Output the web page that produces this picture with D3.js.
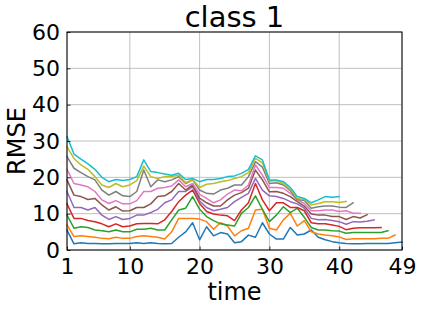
<!DOCTYPE html>
<html><head><meta charset="utf-8">
<script src="https://cdn.jsdelivr.net/npm/d3@7"></script>
<style>body{margin:0;background:#fff}svg{display:block}text{font-family:"DejaVu Sans",sans-serif}</style>
</head><body>
<script>
const title = "class 1";
const xLabel = "time";
const yLabel = "RMSE";
const xTicks = [1, 10, 20, 30, 40, 49];
const yTicks = [0, 10, 20, 30, 40, 50, 60];
const colors = ["#1f77b4","#ff7f0e","#2ca02c","#d62728","#9467bd","#8c564b","#e377c2","#7f7f7f","#bcbd22","#17becf"];

const s0 = [5.5,1.7,2.0,1.8,1.8,1.7,1.7,1.8,1.8,1.8,2.0,1.8,2.0,1.8,1.7,1.8,3.5,5.0,7.5,2.8,6.4,3.9,4.8,4.4,2.0,2.3,4.1,3.5,7.5,4.4,3.0,3.0,6.2,4.1,4.4,5.5,3.5,2.8,2.3,2.0,1.8,1.7,1.7,1.8,1.8,1.8,1.8,2.0,2.2];
const s1 = [6.9,3.7,3.9,3.7,3.5,3.2,3.1,3.5,3.2,3.2,3.7,3.9,3.7,3.5,3.0,5.0,8.7,8.7,8.7,8.5,7.8,5.7,7.5,6.6,3.9,5.3,6.0,11.0,11.2,6.0,5.5,8.3,10.1,6.6,8.1,5.0,4.4,4.1,3.9,3.6,2.9,3.1,3.1,3.1,3.1,3.2,3.2,4.1];
const s2 = [9.6,6.0,6.4,6.2,5.5,5.3,5.0,5.5,5.0,5.0,5.7,5.7,6.0,5.5,5.5,8.3,11.0,11.5,14.7,11.2,9.2,8.1,7.2,6.9,6.6,10.1,11.7,14.9,11.2,7.8,9.6,11.9,10.3,11.5,9.0,6.2,5.5,5.5,5.3,5.2,4.6,4.8,4.8,4.8,4.8,4.8,5.3];
const s3 = [12.7,8.7,8.7,8.1,7.8,7.2,6.4,7.2,6.4,6.6,7.2,7.3,7.3,7.2,8.3,10.6,13.3,15.1,16.5,12.8,10.6,9.9,9.6,9.4,8.1,11.0,13.0,18.3,13.8,10.8,13.0,13.0,11.7,11.7,10.8,7.5,7.2,7.2,6.9,6.5,5.6,6.0,6.1,6.1,6.1,6.2];
const s4 = [16.1,11.7,11.7,11.0,11.7,9.6,8.4,9.2,8.4,8.7,9.6,9.6,10.3,11.2,13.0,13.8,16.1,16.1,17.4,13.5,11.7,10.8,11.2,11.7,13.3,14.5,15.6,19.7,16.5,14.9,14.7,14.2,13.3,12.7,11.5,8.7,8.3,8.4,8.1,7.8,7.1,7.8,7.7,7.9,8.3];
const s5 = [19.3,15.1,14.7,13.9,14.2,12.4,11.0,11.9,10.7,10.8,11.7,11.7,12.7,14.7,14.9,16.1,18.3,16.5,17.9,14.3,13.0,12.1,12.1,13.8,15.1,15.8,17.0,22.0,19.3,16.0,16.1,15.6,14.7,13.3,12.1,9.9,9.6,9.6,9.2,9.2,8.4,9.2,8.8,9.7];
const s6 = [22.2,18.3,17.9,17.4,16.1,13.8,12.8,13.6,12.7,12.7,13.6,16.1,16.1,17.0,17.2,17.6,19.3,17.4,18.3,15.3,14.2,13.0,13.8,15.4,16.5,16.3,17.9,23.4,20.6,17.2,17.2,17.0,15.6,13.8,12.8,10.8,10.8,11.0,11.0,10.6,10.8,10.1,10.1];
const s7 = [25.7,22.5,21.3,20.2,19.3,16.5,15.1,16.1,14.9,14.7,16.1,22.0,17.4,19.3,18.8,19.3,20.2,18.3,19.3,16.5,15.6,15.4,16.5,17.0,17.9,17.9,20.2,24.3,22.8,18.3,18.5,17.9,16.3,13.9,13.6,11.5,11.9,12.1,12.1,11.8,11.7,13.0];
const s8 = [28.4,25.2,23.4,22.2,20.2,17.9,17.2,18.3,17.4,17.9,19.1,23.1,20.2,19.7,20.2,20.2,20.6,18.5,19.4,17.2,18.1,18.3,18.8,19.1,19.7,20.2,21.3,25.2,24.0,18.9,19.1,18.3,16.7,14.2,13.9,12.4,12.8,13.3,13.3,13.1,13.4];
const s9 = [31.2,26.4,25.0,23.7,22.2,20.0,18.8,19.4,19.1,19.4,20.2,24.8,21.6,21.3,20.9,20.6,21.1,19.4,19.7,18.8,19.4,19.4,19.7,20.2,20.4,21.1,22.2,25.9,24.8,19.3,19.3,18.8,17.2,14.7,14.2,13.0,13.8,14.7,14.5,14.7];
const series = [s0,s1,s2,s3,s4,s5,s6,s7,s8,s9];

const W = 421, H = 309;
const m = {left: 67, right: 19, top: 32, bottom: 59};
const svg = d3.select("body").append("svg").attr("width", W).attr("height", H);
const x = d3.scaleLinear().domain([1, 49]).range([m.left, W - m.right]);
const y = d3.scaleLinear().domain([0, 60]).range([H - m.bottom, m.top]);

// grid
const g = svg.append("g");
g.selectAll(".vx").data(xTicks).join("line")
  .attr("x1", d => x(d)).attr("x2", d => x(d)).attr("y1", y(0)).attr("y2", y(60))
  .attr("stroke", "#b0b0b0").attr("stroke-width", 0.8);
g.selectAll(".hy").data(yTicks).join("line")
  .attr("y1", d => y(d)).attr("y2", d => y(d)).attr("x1", x(1)).attr("x2", x(49))
  .attr("stroke", "#b0b0b0").attr("stroke-width", 0.8);

// lines
const line = d3.line().x((d, i) => x(i + 1)).y(d => y(d));
svg.append("g").selectAll("path").data(series).join("path")
  .attr("d", d => line(d)).attr("fill", "none")
  .attr("stroke", (d, i) => colors[i]).attr("stroke-width", 1.5)
  .attr("stroke-linejoin", "round").attr("stroke-linecap", "square");

// axes
const xAxis = d3.axisBottom(x).tickValues(xTicks).tickFormat(d3.format("d")).tickSizeInner(-3.5).tickSizeOuter(0).tickPadding(8);
const yAxis = d3.axisLeft(y).tickValues(yTicks).tickSizeInner(-3.5).tickSizeOuter(0).tickPadding(7);
const ax = svg.append("g").attr("transform", `translate(0,${H - m.bottom})`).call(xAxis);
const ay = svg.append("g").attr("transform", `translate(${m.left},0)`).call(yAxis);
[ax, ay].forEach(a => {
  a.select(".domain").remove();
  a.selectAll("text").attr("font-size", 22).attr("fill", "#000").style("font-family", "DejaVu Sans");
  a.selectAll("line").attr("stroke", "#000").attr("stroke-width", 0.8);
});
// frame
svg.append("rect").attr("x", m.left).attr("y", m.top)
  .attr("width", W - m.left - m.right).attr("height", H - m.top - m.bottom)
  .attr("fill", "none").attr("stroke", "#000").attr("stroke-width", 1);

svg.append("text").attr("x", (m.left + W - m.right) / 2).attr("y", 27)
  .attr("text-anchor", "middle").attr("font-size", 29).text(title);
svg.append("text").attr("x", (m.left + W - m.right) / 2).attr("y", 300)
  .attr("text-anchor", "middle").attr("font-size", 24).text(xLabel);
svg.append("text").attr("transform", `translate(25,${(m.top + H - m.bottom) / 2}) rotate(-90)`)
  .attr("text-anchor", "middle").attr("font-size", 24).text(yLabel);
</script>
</body></html>
